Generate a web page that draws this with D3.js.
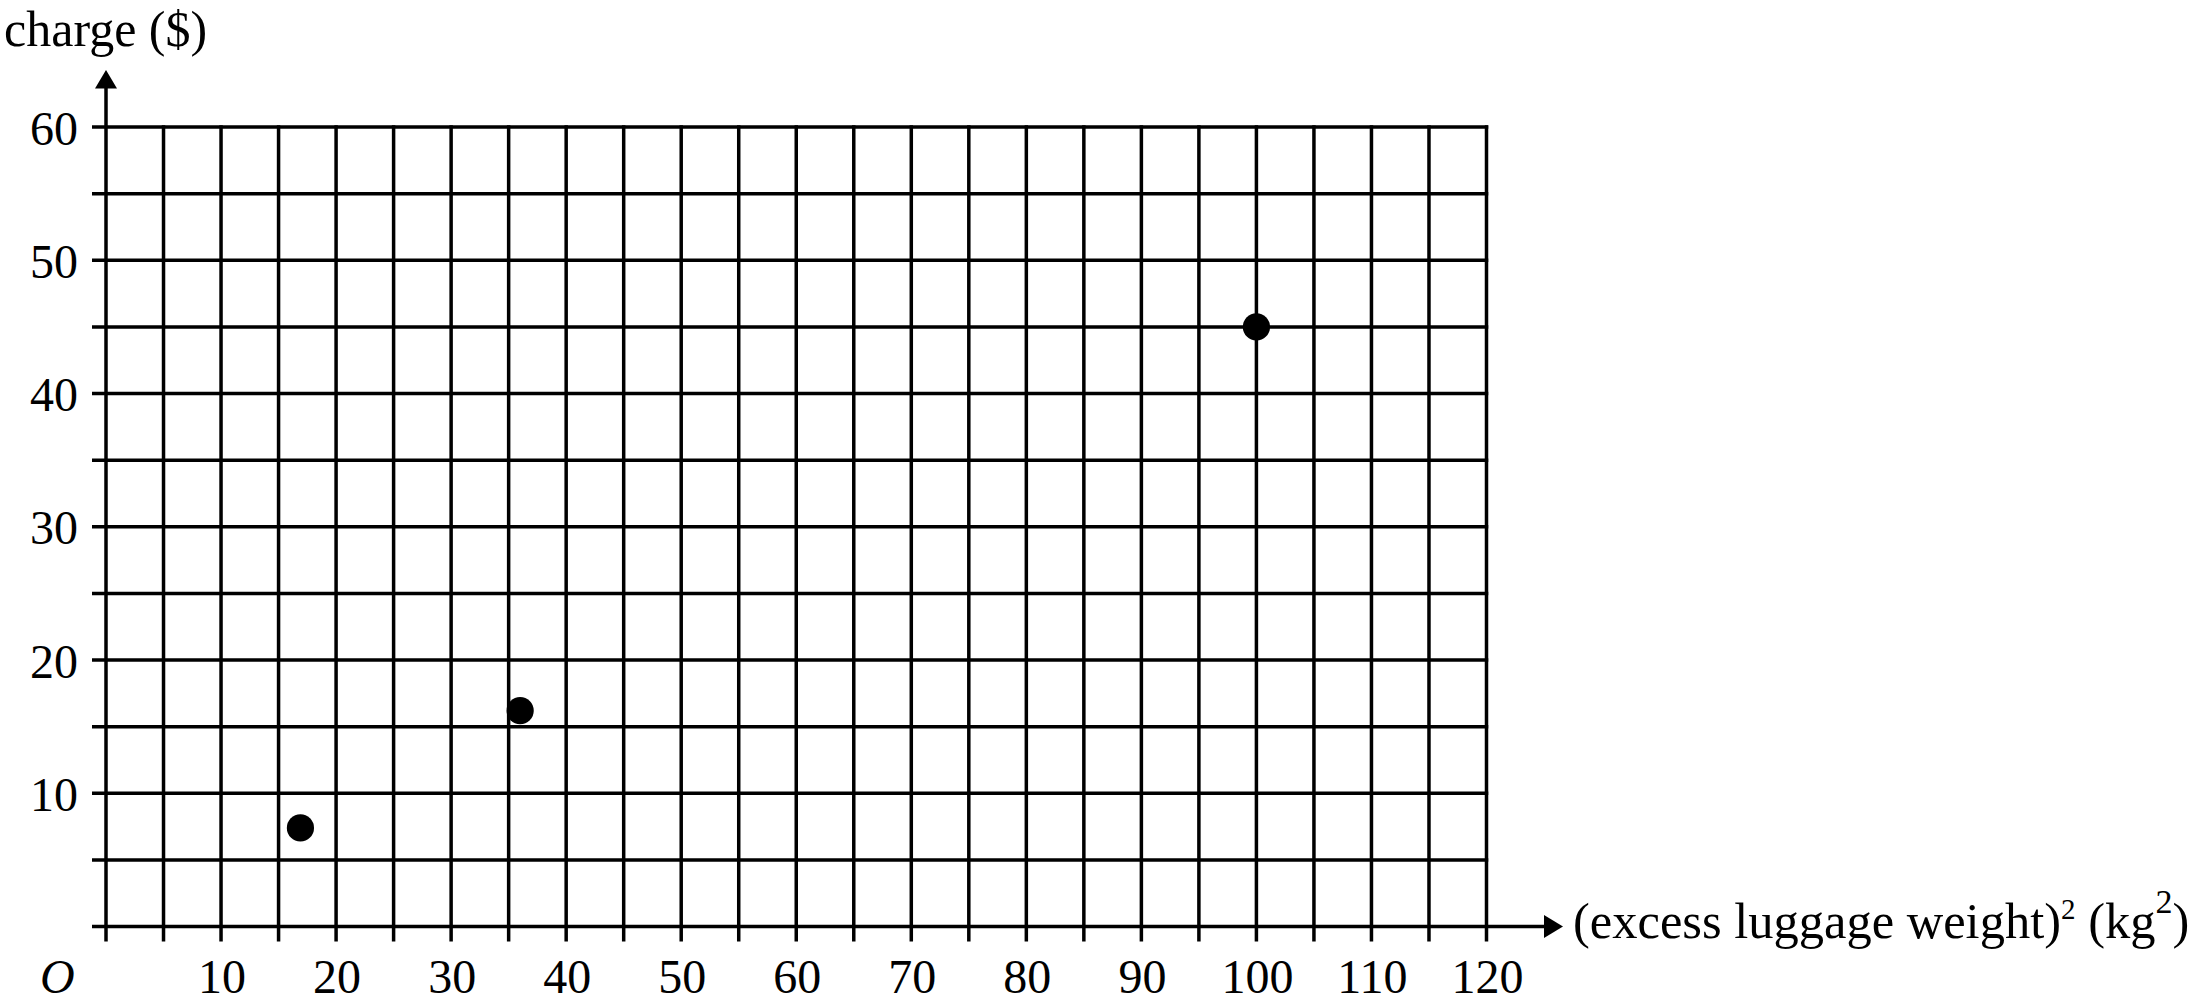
<!DOCTYPE html>
<html>
<head>
<meta charset="utf-8">
<script src="https://cdn.jsdelivr.net/npm/d3@7"></script>
<style>
  html, body { margin: 0; padding: 0; background: #fff; }
  svg { display: block; }
  text { font-family: "Liberation Serif", "Times New Roman", serif; fill: #000; }
</style>
</head>
<body>
<svg id="chart" width="2194" height="1008"></svg>
<script>
// ---- data ----
const xTickLabels = [10, 20, 30, 40, 50, 60, 70, 80, 90, 100, 110, 120];
const yTickLabels = [10, 20, 30, 40, 50, 60];
const xGridValues = [5, 10, 15, 20, 25, 30, 35, 40, 45, 50, 55, 60, 65, 70, 75, 80, 85, 90, 95, 100, 105, 110, 115, 120];
const yGridValues = [5, 10, 15, 20, 25, 30, 35, 40, 45, 50, 55, 60];
const pointX = [16.9, 36, 100];
const pointY = [7.4, 16.2, 45];
const xTitle = "(excess luggage weight)";
const yTitle = "charge ($)";

// ---- layout ----
const svg = d3.select("#chart");
const x = d3.scaleLinear().domain([0, 120]).range([106, 1486.5]);
const y = d3.scaleLinear().domain([0, 60]).range([926.5, 127]);
const lw = 3.5;
const ext = 14;

const g = svg.append("g");

// horizontal grid lines (extend left of axis)
g.selectAll("line.hgrid").data(yGridValues).enter().append("line")
  .attr("x1", x(0) - ext).attr("x2", x(120) + lw / 2)
  .attr("y1", d => y(d)).attr("y2", d => y(d))
  .attr("stroke", "#000").attr("stroke-width", lw);

// vertical grid lines (extend below axis)
g.selectAll("line.vgrid").data(xGridValues).enter().append("line")
  .attr("x1", d => x(d)).attr("x2", d => x(d))
  .attr("y1", y(60) - lw / 2).attr("y2", y(0) + ext + 1)
  .attr("stroke", "#000").attr("stroke-width", lw);

// x axis
const arrowXTip = 1563;
g.append("line")
  .attr("x1", x(0) - ext).attr("x2", arrowXTip - 14)
  .attr("y1", y(0)).attr("y2", y(0))
  .attr("stroke", "#000").attr("stroke-width", lw);
g.append("path")
  .attr("d", `M${arrowXTip},${y(0)} L${arrowXTip - 19},${y(0) - 11.5} L${arrowXTip - 19},${y(0) + 11.5} Z`)
  .attr("fill", "#000");

// y axis
const arrowYTip = 70;
g.append("line")
  .attr("x1", x(0)).attr("x2", x(0))
  .attr("y1", y(0) + ext + 1).attr("y2", arrowYTip + 14)
  .attr("stroke", "#000").attr("stroke-width", lw);
g.append("path")
  .attr("d", `M${x(0)},${arrowYTip} L${x(0) - 11},${arrowYTip + 18.5} L${x(0) + 11},${arrowYTip + 18.5} Z`)
  .attr("fill", "#000");

// y tick labels
g.selectAll("text.ytick").data(yTickLabels).enter().append("text")
  .attr("x", 78).attr("y", d => y(d) + 17.5)
  .attr("text-anchor", "end").attr("font-size", 48)
  .text(d => d);

// x tick labels
g.selectAll("text.xtick").data(xTickLabels).enter().append("text")
  .attr("x", d => x(d) + 1).attr("y", 993)
  .attr("text-anchor", "middle").attr("font-size", 48)
  .text(d => d);

// origin
g.append("text").attr("x", 40).attr("y", 993)
  .attr("font-size", 48).attr("font-style", "italic").text("O");

// y title
g.append("text").attr("x", 4).attr("y", 46)
  .attr("font-size", 50).text(yTitle);

// x title
const xt = g.append("text").attr("x", 1573).attr("y", 938).attr("font-size", 50.5);
xt.append("tspan").text(xTitle);
xt.append("tspan").attr("font-size", 29).attr("dy", -19).text("2");
xt.append("tspan").attr("dy", 19).text(" (kg");
xt.append("tspan").attr("font-size", 34).attr("dy", -25).text("2");
xt.append("tspan").attr("dy", 25).text(")");

// points
g.selectAll("circle.pt").data(pointX.map((v, i) => [v, pointY[i]])).enter().append("circle")
  .attr("cx", d => x(d[0])).attr("cy", d => y(d[1]))
  .attr("r", 13.6).attr("fill", "#000");
</script>
</body>
</html>
